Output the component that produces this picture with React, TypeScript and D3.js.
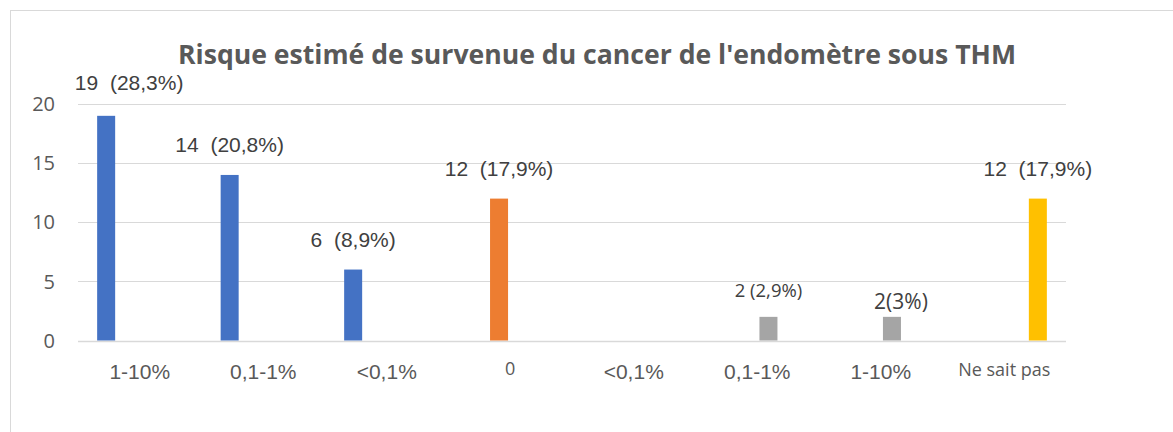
import React from "react";
import * as d3 from "d3";

const title = "Risque estimé de survenue du cancer de l'endomètre sous THM";
const categories = ["1-10%", "0,1-1%", "<0,1%", "0", "<0,1% ", "0,1-1% ", "1-10% ", "Ne sait pas"];
const seriesNames = ["Oui", "Non", "Non mais", "NSP"];
const seriesColors = ["#4472C4", "#ED7D31", "#A5A5A5", "#FFC000"];
const seriesBlue = [19, 14, 6, 0, 0, 0, 0, 0];
const seriesOrange = [0, 0, 0, 12, 0, 0, 0, 0];
const seriesGray = [0, 0, 0, 0, 0, 2, 2, 0];
const seriesYellow = [0, 0, 0, 0, 0, 0, 0, 12];
const labelTexts = [
  ["19  (28,3%)", "14  (20,8%)", "6  (8,9%)", "", "", "", "", ""],
  ["", "", "", "12  (17,9%)", "", "", "", ""],
  ["", "", "", "", "", "2 (2,9%)", "2(3%)", ""],
  ["", "", "", "", "", "", "", "12  (17,9%)"],
];
const yTicks = [0, 5, 10, 15, 20];

// style-only tweaks for manually moved labels (series index, category index)
const labelStyle: Record<string, { dx: number; dy: number; font: string; size: number }> = {
  "0-0": { dx: 23, dy: -26, font: "Liberation Sans, Arial, sans-serif", size: 21 },
  "2-5": { dx: 0, dy: -20, font: "Open Sans, sans-serif", size: 18.5 },
  "2-6": { dx: 9, dy: -8, font: "Open Sans, sans-serif", size: 21 },
};
const catStyle: Record<number, { font: string; size: number; y: number }> = {
  3: { font: "Open Sans, sans-serif", size: 18, y: 375 },
  7: { font: "Open Sans, sans-serif", size: 18, y: 375.5 },
};

export default function App() {
  const W = 1173, H = 432;
  const series = [seriesBlue, seriesOrange, seriesGray, seriesYellow];
  const x0 = d3.scaleBand<string>().domain(categories).range([78, 1066]).padding(0);
  const x1 = d3
    .scaleBand<string>()
    .domain(seriesNames)
    .range([0, x0.bandwidth()])
    .paddingInner(0.196)
    .paddingOuter(0.855);
  const y = d3.scaleLinear().domain([0, 20]).range([340.5, 104]);

  return (
    <svg
      width={W}
      height={H}
      style={{ position: "absolute", left: 0, top: 0, display: "block", background: "#fff" }}
    >
      <rect x={10.5} y={10.5} width={1300} height={600} fill="#fff" stroke="#d9d9d9" strokeWidth={1} />
      <text
        x={597}
        y={63.5}
        textAnchor="middle"
        fontFamily="Open Sans, sans-serif"
        fontWeight="bold"
        fontSize={26.5}
        textLength={838}
        lengthAdjust="spacingAndGlyphs"
        fill="#595959"
      >
        {title}
      </text>
      {yTicks.map((t) => (
        <g key={t}>
          <line
            x1={78}
            x2={1066}
            y1={Math.round(y(t)) + 0.5}
            y2={Math.round(y(t)) + 0.5}
            stroke="#d9d9d9"
            strokeWidth={t === 0 ? 1.5 : 1.2}
          />
          <text
            x={55}
            y={y(t)}
            dy="0.36em"
            textAnchor="end"
            fontFamily="Open Sans, sans-serif"
            fontSize={20}
            fill="#595959"
          >
            {t}
          </text>
        </g>
      ))}
      {series.map((vals, si) =>
        vals.map((v, ci) =>
          v > 0 ? (
            <rect
              key={`b${si}-${ci}`}
              x={(x0(categories[ci]) ?? 0) + (x1(seriesNames[si]) ?? 0)}
              y={y(v)}
              width={x1.bandwidth()}
              height={y(0) - y(v)}
              fill={seriesColors[si]}
            />
          ) : null
        )
      )}
      {series.map((vals, si) =>
        vals.map((v, ci) => {
          const txt = labelTexts[si][ci];
          if (!txt) return null;
          const st = labelStyle[`${si}-${ci}`] ?? {
            dx: 0,
            dy: -23,
            font: "Liberation Sans, Arial, sans-serif",
            size: 21,
          };
          const cx = (x0(categories[ci]) ?? 0) + (x1(seriesNames[si]) ?? 0) + x1.bandwidth() / 2;
          return (
            <text
              key={`l${si}-${ci}`}
              x={cx + st.dx}
              y={y(v) + st.dy}
              textAnchor="middle"
              fontFamily={st.font}
              fontSize={st.size}
              fill="#404040"
              style={{ whiteSpace: "pre" }}
            >
              {txt}
            </text>
          );
        })
      )}
      {categories.map((c, i) => {
        const st = catStyle[i] ?? { font: "Liberation Sans, Arial, sans-serif", size: 21, y: 379 };
        return (
          <text
            key={`c${i}`}
            x={(x0(c) ?? 0) + x0.bandwidth() / 2}
            y={st.y}
            textAnchor="middle"
            fontFamily={st.font}
            fontSize={st.size}
            fill="#595959"
          >
            {c.trim()}
          </text>
        );
      })}
    </svg>
  );
}
